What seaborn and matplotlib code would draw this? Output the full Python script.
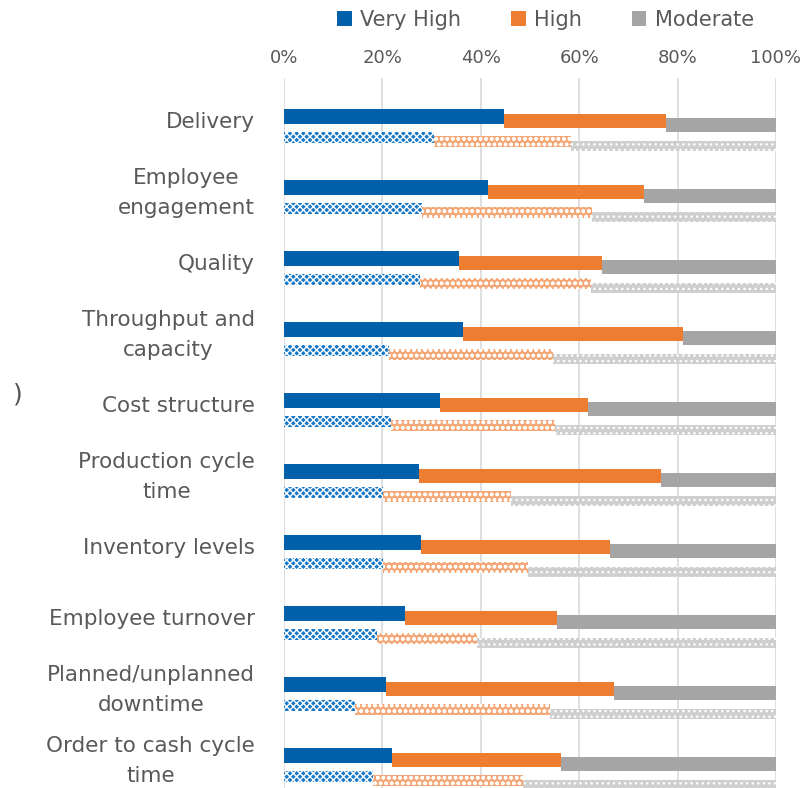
import numpy as np
import pandas as pd
import matplotlib
matplotlib.use("Agg")
import matplotlib.pyplot as plt
import seaborn as sns

categories = ["Delivery", "Employee\nengagement", "Quality", "Throughput and\ncapacity",
              "Cost structure", "Production cycle\ntime", "Inventory levels",
              "Employee turnover", "Planned/unplanned\ndowntime", "Order to cash cycle\ntime"]
series = ["Very High", "High", "Moderate"]

# solid bars (percent)
very_high_a = [44.8, 41.5, 35.6, 36.4, 31.8, 27.4, 27.8, 24.5, 20.8, 21.9]
high_a      = [32.9, 31.7, 29.1, 44.6, 30.0, 49.2, 38.4, 31.0, 46.2, 34.4]
moderate_a  = [22.3, 26.8, 35.3, 19.0, 38.2, 23.4, 33.8, 44.5, 33.0, 43.7]
# patterned bars (percent)
very_high_b = [30.5, 28.1, 27.6, 21.4, 21.7, 20.2, 20.2, 18.9, 14.4, 18.1]
high_b      = [27.9, 34.4, 34.8, 33.3, 33.4, 26.0, 29.3, 20.3, 39.6, 30.5]
moderate_b  = [41.6, 37.5, 37.6, 45.3, 44.9, 53.8, 50.5, 60.8, 46.0, 51.4]

xticks = [0, 20, 40, 60, 80, 100]
xtick_labels = ["0%", "20%", "40%", "60%", "80%", "100%"]

sns.set_theme(style="white")
plt.rcParams['font.family'] = ['DejaVu Sans']

solid_colors = ["#0060A9", "#ED7D31", "#A5A5A5"]
pat_colors = ["#1878C8", "#F4A777", "#CFCFCF"]
pat_hatch = ["xxxxx", "ooo", "..."]
solid_off = [-0.077, -0.014, 0.042]
pat_off = [0.218, 0.27, 0.338]

fig = plt.figure(figsize=(8.07, 7.88), dpi=100)
ax = fig.add_axes([284/807, 0.0, (776-284)/807, 1 - 78/788])

pos = np.arange(len(categories))
dfa = pd.DataFrame({"Very High": very_high_a, "High": high_a, "Moderate": moderate_a}, index=categories)
dfb = pd.DataFrame({"Very High": very_high_b, "High": high_b, "Moderate": moderate_b}, index=categories)

left = np.zeros(len(categories))
for k, s in enumerate(series):
    ax.barh(pos + solid_off[k], dfa[s].values, left=left, height=0.21,
            color=solid_colors[k], edgecolor="none", label=s, zorder=3)
    left += dfa[s].values

left = np.zeros(len(categories))
plt.rcParams['hatch.linewidth'] = 1.0
for k, s in enumerate(series):
    ax.barh(pos + pat_off[k], dfb[s].values, left=left, height=0.15,
            color=pat_colors[k], edgecolor="white", linewidth=0,
            hatch=pat_hatch[k], zorder=3)
    left += dfb[s].values

ax.set_xlim(0, 100)
ax.set_ylim(9.38, -0.62)
ax.xaxis.tick_top()
ax.set_xticks(xticks)
ax.set_xticklabels(xtick_labels, fontsize=13, color="#595959")
ax.set_yticks(pos)
ax.set_yticklabels(categories, fontsize=15.5, color="#595959", linespacing=1.65,
                   va="center", multialignment="center")
ax.tick_params(axis="both", length=0)
ax.tick_params(axis="y", pad=21)
ax.tick_params(axis="x", pad=8)
ax.grid(axis="x", color="#D9D9D9", linewidth=1.2, zorder=0)
ax.grid(axis="y", visible=False)
for sp in ax.spines.values():
    sp.set_visible(False)

handles, labels = ax.get_legend_handles_labels()
fig.legend(handles, labels, loc="center", bbox_to_anchor=(0.676, 0.975), ncol=3,
           frameon=False, fontsize=15, handlelength=0.7, handleheight=0.7,
           handletextpad=0.4, columnspacing=2.4, labelcolor="#595959")

fig.text(0.022, 0.499, ")", fontsize=18, color="#555555",
         ha="center", va="center")

fig.savefig("out.png", dpi=100)
